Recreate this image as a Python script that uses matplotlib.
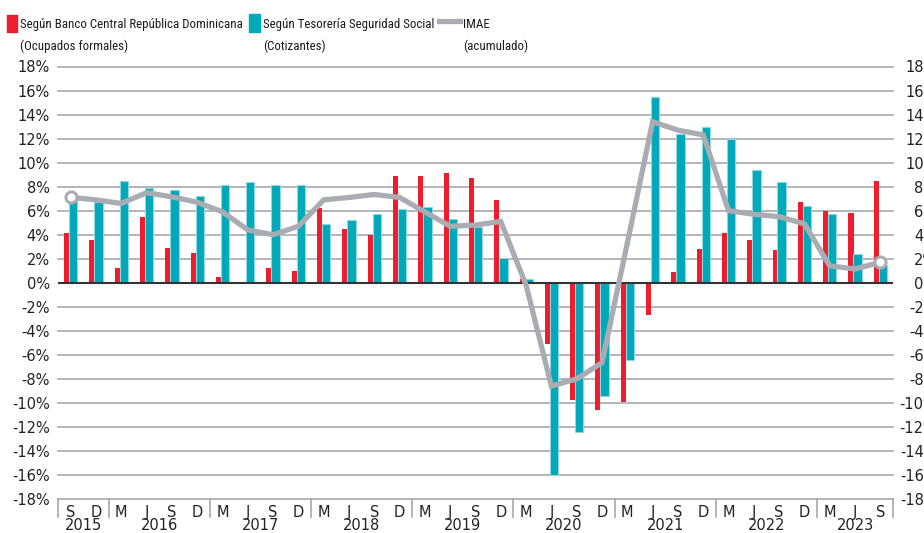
import matplotlib.pyplot as plt
from matplotlib import font_manager
from matplotlib.patches import Rectangle
from matplotlib.lines import Line2D
import matplotlib.transforms as mtrans

# quarters from Sep 2015 to Sep 2023
months = ['S', 'D'] + ['M', 'J', 'S', 'D'] * 7 + ['M', 'J', 'S']
years = ['2015', '2016', '2017', '2018', '2019', '2020', '2021', '2022', '2023']
year_len = [2, 4, 4, 4, 4, 4, 4, 4, 3]

# Banco Central (ocupados formales), % interanual
bcrd = [4.1, 3.6, 1.2, 5.5, 2.9, 2.5, 0.5, 0.05, 1.2, 1.0,
        6.2, 4.5, 4.0, 8.9, 8.9, 9.1, 8.7, 6.9, 0.35, -5.1,
        -9.8, -10.6, -9.9, -2.7, 0.9, 2.8, 4.1, 3.6, 2.7, 6.7,
        6.0, 5.8, 8.5]
# Tesoreria Seguridad Social (cotizantes)
tss = [7.4, 6.7, 8.5, 7.9, 7.7, 7.2, 8.1, 8.4, 8.1, 8.1,
       4.9, 5.2, 5.7, 6.1, 6.3, 5.3, 4.6, 2.1, 0.35, -16.0,
       -12.4, -9.4, -6.4, 15.5, 12.4, 13.0, 12.0, 9.4, 8.4, 6.4,
       5.7, 2.4, 1.5]
# IMAE acumulado
imae = [7.1, 6.9, 6.6, 7.5, 7.15, 6.7, 5.9, 4.4, 4.0, 4.7,
        6.9, 7.1, 7.35, 7.1, 5.9, 4.7, 4.8, 5.1, -0.2, -8.6,
        -8.0, -6.65, 3.3, 13.4, 12.7, 12.3, 6.0, 5.7, 5.5, 4.9,
        1.4, 1.15, 1.7]

red = '#ed1c2e'
teal = '#00a9b9'
gray = '#a9adb3'
grid_c = '#a4a9ae'

# narrow font for the legend if there is one
installed = {f.name for f in font_manager.fontManager.ttflist}
if 'Roboto Condensed' in installed:
    leg_font, leg_size = 'Roboto Condensed', 9.3
else:
    leg_font, leg_size = 'Roboto', 8.2

fig = plt.figure(figsize=(9.24, 5.33), dpi=100)
ax = fig.add_axes([58 / 924, 1 - 499 / 533, 835 / 924, 432.5 / 533])

x = list(range(len(months)))
for v in range(-18, 19, 2):
    if v == 0:
        continue
    ax.axhline(v, color=grid_c, lw=1.2, zorder=0, clip_on=False)

ax.bar([i - 0.16 for i in x], bcrd, width=0.2, color=red, zorder=2)
ax.bar([i + 0.1 for i in x], tss, width=0.33, color=teal,
       edgecolor='#8fd6df', linewidth=0.8, zorder=2)
ax.axhline(0, color='#333333', lw=1.5, zorder=3)

ax.plot(x, imae, color=gray, lw=3.8, zorder=4, solid_joinstyle='miter')
ax.plot([x[0], x[-1]], [imae[0], imae[-1]], ls='none', marker='o', ms=8,
        mfc='white', mec=gray, mew=2.2, zorder=5)

ax.set_xlim(-0.5, len(x) - 0.5)
ax.set_ylim(-18, 18)
for s in ax.spines.values():
    s.set_visible(False)

yt = list(range(-18, 19, 2))
ax.set_yticks(yt)
ax.set_yticklabels([f'{v}%' for v in yt], fontsize=10.5, color='#222222')
ax.tick_params(axis='y', length=0, pad=6)

ax2 = ax.twinx()
ax2.set_ylim(-18, 18)
ax2.set_yticks(yt)
ax2.set_yticklabels([f'{v}%' for v in yt], fontsize=10.5, color='#222222')
ax2.tick_params(axis='y', length=0, pad=32)
for lab in ax2.get_yticklabels():
    lab.set_horizontalalignment('right')
for s in ax2.spines.values():
    s.set_visible(False)

ax.set_xticks(x)
ax.set_xticklabels(months, fontsize=10.5, color='#222222')
ax.tick_params(axis='x', length=0, pad=4)

# year labels and separators under the axis
trans = mtrans.blended_transform_factory(ax.transData, ax.transAxes)
start = 0
bounds = [-0.5]
for yr, n in zip(years, year_len):
    mid = start + (n - 1) / 2
    ax.text(mid, -0.072, yr, transform=trans, ha='center', va='baseline',
            fontsize=10.5, color='#222222')
    start += n
    bounds.append(start - 0.5)
for b in bounds:
    ax.plot([b, b], [0, -0.042], transform=trans, color=grid_c, lw=1.2,
            clip_on=False)

# legend drawn by hand at the top
txt = dict(fontsize=leg_size, color='#1a1a1a', va='baseline', family=leg_font)
fig.patches.append(Rectangle((7 / 924, 1 - 32 / 533), 10 / 924, 17 / 533,
                             transform=fig.transFigure, color=red))
fig.text(20 / 924, 1 - 28 / 533, 'Según Banco Central República Dominicana', **txt)
fig.text(20 / 924, 1 - 50 / 533, '(Ocupados formales)', **txt)
fig.patches.append(Rectangle((249 / 924, 1 - 32 / 533), 11 / 924, 18 / 533,
                             transform=fig.transFigure, color=teal))
fig.text(263 / 924, 1 - 28 / 533, 'Según Tesorería Seguridad Social', **txt)
fig.text(263 / 924, 1 - 50 / 533, '(Cotizantes)', **txt)
fig.lines.append(Line2D([439 / 924, 460 / 924], [1 - 21 / 533, 1 - 21 / 533],
                        transform=fig.transFigure, color=gray, lw=3.8))
fig.text(463 / 924, 1 - 28 / 533, 'IMAE', **txt)
fig.text(463 / 924, 1 - 50 / 533, '(acumulado)', **txt)

fig.savefig('out.png', dpi=100)
